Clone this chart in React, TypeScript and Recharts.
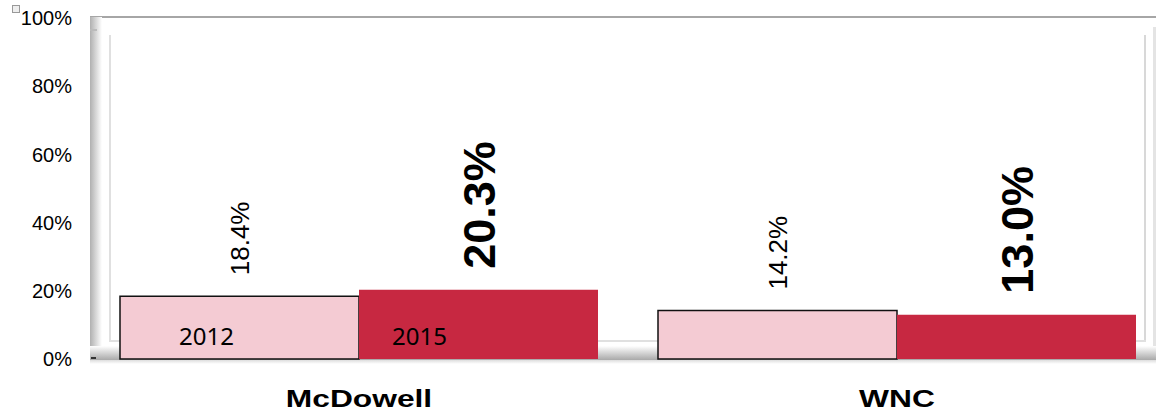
import { BarChart, Bar, XAxis, YAxis, LabelList } from 'recharts'

const categories = ['McDowell', 'WNC']
const values2012 = [18.4, 14.2]
const values2015 = [20.3, 13.0]
const seriesNames = ['2012', '2015']
const yTicks = [0, 20, 40, 60, 80, 100]

const data = categories.map((name, i) => ({ name, y2012: values2012[i], y2015: values2015[i] }))

const FONT = '"Liberation Sans", Arial, sans-serif'

// rotated value label sitting above the bar
const ValueLabel = ({ x, y, width, value, bold }: any) => {
  const cx = x + width / 2
  const ty = y - 21
  return (
    <text
      x={cx}
      y={ty}
      transform={`rotate(-90 ${cx} ${ty})`}
      dy="0.36em"
      textAnchor="start"
      fontFamily={FONT}
      fontSize={bold ? 45 : 26}
      fontWeight={bold ? 700 : 400}
      fill="#000"
    >
      {Number(value).toFixed(1)}%
    </text>
  )
}

// series name written inside the first bar of each series
const SeriesTag = ({ x, y, height, index, name, inset }: any) => {
  if (index !== 0) return null
  return (
    <text x={x + inset} y={y + height - 14} fontFamily='"Noto Sans", sans-serif' fontSize={24} fill="#000">
      {name}
    </text>
  )
}

const CategoryTick = ({ x, y, payload }: any) => (
  <g transform={`translate(${x},${y + 40}) scale(1.38,1)`}>
    <text x={0} y={0} textAnchor="middle" fontFamily={FONT} fontSize={23} fontWeight={700} fill="#000">
      {payload.value}
    </text>
  </g>
)

const box = (s: React.CSSProperties): React.CSSProperties => ({ position: 'absolute', ...s })

export default function App() {
  return (
    <div style={{ position: 'absolute', left: 0, top: 0, width: 1156, height: 415, overflow: 'hidden', background: '#fff' }}>
      {/* frame of the plot area */}
      <div style={box({ left: 12, top: 5, width: 6, height: 6, border: '1px solid #999', background: '#eee' })} />
      <div style={box({ left: 90, top: 16, width: 1070, height: 2, background: '#a6a6a6' })} />
      <div style={box({ left: 90, top: 17, width: 12, height: 343, background: 'linear-gradient(to right, #b0b0b0, #fff)' })} />
      <div style={box({ left: 90, top: 29, width: 7, height: 2, background: '#bbb' })} />
      <div style={box({ left: 109, top: 35, width: 2, height: 306, background: '#e0e0e0' })} />
      <div style={box({ left: 1144, top: 35, width: 2, height: 306, background: '#d8d8d8' })} />
      <div style={box({ left: 1153, top: 27, width: 3, height: 320, background: '#e4e4e4' })} />
      <div style={box({ left: 109, top: 340, width: 1037, height: 2, background: '#e0e0e0' })} />
      <div style={box({ left: 90, top: 346, width: 1070, height: 14, background: 'linear-gradient(to bottom, #fff, #a9a9a9)' })} />
      <div style={box({ left: 90, top: 360, width: 1070, height: 4, background: 'linear-gradient(to bottom, #ddd, #fff)' })} />
      <div style={box({ left: 91, top: 357, width: 5, height: 2, background: '#333' })} />

      <div style={box({ left: 0, top: 0 })}>
        <BarChart
          width={1166}
          height={415}
          data={data}
          margin={{ top: 18, right: 0, left: 0, bottom: 0 }}
          barCategoryGap={30}
          barGap={0}
          style={{ background: 'transparent' }}
        >
          <YAxis
            width={90}
            domain={[0, 100]}
            ticks={yTicks}
            interval={0}
            tickFormatter={v => `${v}%`}
            axisLine={false}
            tickLine={false}
            tickSize={0}
            tickMargin={18}
            tick={{ fontSize: 20, fill: '#000', fontFamily: FONT }}
          />
          <XAxis dataKey="name" axisLine={false} tickLine={false} height={56} interval={0} tick={<CategoryTick />} />
          <Bar dataKey="y2012" name={seriesNames[0]} fill="#f4cbd3" stroke="#111" strokeWidth={1.5} isAnimationActive={false}>
            <LabelList dataKey="y2012" content={(p: any) => <ValueLabel {...p} />} />
            <LabelList dataKey="y2012" content={(p: any) => <SeriesTag {...p} name={seriesNames[0]} inset={59} />} />
          </Bar>
          <Bar dataKey="y2015" name={seriesNames[1]} fill="#c72841" isAnimationActive={false}>
            <LabelList dataKey="y2015" content={(p: any) => <ValueLabel {...p} bold />} />
            <LabelList dataKey="y2015" content={(p: any) => <SeriesTag {...p} name={seriesNames[1]} inset={33} />} />
          </Bar>
        </BarChart>
      </div>
    </div>
  )
}
